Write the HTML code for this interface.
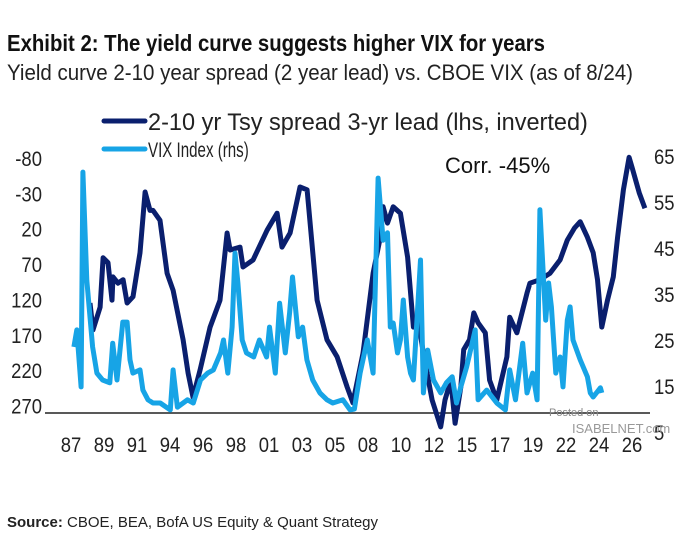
<!DOCTYPE html>
<html><head><meta charset="utf-8"><style>
body{margin:0;background:#fff;}
svg{display:block;font-family:"Liberation Sans",sans-serif;}
</style></head><body>
<svg id="chart" width="700" height="560">
<text x="7" y="51" font-size="23" font-weight="bold" fill="#111" textLength="538" lengthAdjust="spacingAndGlyphs">Exhibit 2: The yield curve suggests higher VIX for years</text>
<text x="7" y="80" font-size="22" fill="#222" textLength="626" lengthAdjust="spacingAndGlyphs">Yield curve 2-10 year spread (2 year lead) vs. CBOE VIX (as of 8/24)</text>
<line x1="104" y1="121" x2="145" y2="121" stroke="#0a1f6e" stroke-width="5" stroke-linecap="round"/>
<text x="148" y="130" font-size="24" fill="#222" transform="translate(148,0) scale(0.98,1) translate(-148,0)">2-10 yr Tsy spread 3-yr lead (lhs, inverted)</text>
<line x1="104" y1="149" x2="145" y2="149" stroke="#17a4e6" stroke-width="5" stroke-linecap="round"/>
<text x="148" y="157" font-size="21" fill="#222" transform="translate(148,0) scale(0.72,1) translate(-148,0)">VIX Index (rhs)</text>
<text x="445" y="173" font-size="22" fill="#111">Corr. -45%</text>
<line x1="45" y1="413" x2="650" y2="413" stroke="#222" stroke-width="1.5"/>
<g id="ticks"></g>
<g id="series"></g>
<text x="549" y="416" font-size="11" fill="#888">Posted on</text>
<text x="572" y="433" font-size="13" fill="#999">ISABELNET.com</text>
<text x="7" y="527" font-size="15" fill="#222"><tspan font-weight="bold">Source:</tspan> CBOE, BEA, BofA US Equity &amp; Quant Strategy</text>
</svg>
<script>
const xTickLabels=["87","89","91","94","96","98","01","03","05","08","10","12","15","17","19","22","24","26"];
const leftTicks=[-80,-30,20,70,120,170,220,270];
const rightTicks=[65,55,45,35,25,15,5];
const spreadYears=[1988.32,1988.53,1989.02,1989.23,1989.57,1989.85,1989.92,1990.27,1990.62,1990.9,1991.31,1991.8,1992.15,1992.49,1992.7,1993.19,1993.68,1994.1,1994.79,1995.14,1995.48,1995.97,1996.67,1997.36,1997.85,1998.06,1998.75,1998.96,1999.66,2000.63,2001.33,2001.67,2002.23,2002.92,2003.41,2004.11,2004.8,2005.5,2006.2,2006.6,2007.3,2008.0,2008.5,2008.7,2009.0,2009.4,2009.9,2010.4,2010.8,2011.1,2011.5,2012.1,2012.7,2013.0,2013.4,2013.7,2014.1,2014.3,2014.7,2015.0,2015.3,2015.8,2016.1,2016.6,2017.3,2017.5,2018.0,2018.7,2018.9,2019.6,2020.3,2021.0,2021.5,2022.0,2022.4,2022.9,2023.3,2023.6,2023.9,2024.3,2024.7,2025.0,2025.4,2025.8,2026.0,2026.5,2026.9];
const spreadValues=[125,163,131,61,68,121,88,97,92,125,116,54,-32,-6,-6,8,83,107,177,224,258,220,159,121,26,50,46,74,64,22,-2,46,26,-39,-35,121,177,201,244,266,196,83,32,-11,12,-11,-2,60,159,145,196,262,300,262,234,295,244,191,177,139,153,167,234,262,201,145,167,111,97,92,83,64,36,19,10,32,54,92,159,121,88,32,-35,-81,-67,-31,-9];
const vixYears=[1987.2,1987.4,1987.7,1987.83,1988.1,1988.5,1988.8,1989.2,1989.7,1989.9,1990.2,1990.6,1990.9,1991.1,1991.3,1991.8,1992.0,1992.35,1992.7,1993.2,1993.9,1994.1,1994.4,1995.1,1995.5,1996.0,1996.5,1996.9,1997.4,1997.6,1997.9,1998.2,1998.4,1998.6,1998.9,1999.2,1999.7,2000.1,2000.6,2000.8,2001.2,2001.5,2001.9,2002.2,2002.4,2002.8,2003.1,2003.4,2003.8,2004.3,2004.8,2005.2,2005.9,2006.4,2006.7,2007.1,2007.6,2008.0,2008.35,2008.7,2009.0,2009.2,2009.4,2009.7,2009.9,2010.1,2010.4,2010.6,2010.8,2011.3,2011.5,2011.8,2012.2,2012.7,2013.1,2013.5,2013.8,2014.1,2014.5,2015.1,2015.3,2015.9,2016.6,2017.2,2017.5,2017.9,2018.4,2018.7,2019.1,2019.4,2019.6,2020.0,2020.2,2020.4,2020.7,2021.0,2021.2,2021.5,2021.7,2021.9,2022.4,2022.9,2023.1,2023.3,2023.8,2023.9];
const vixValues=[23.5,27.2,14.8,61.5,38,23.5,17.8,16.3,15.7,24.3,16.3,28.9,28.9,20.7,17.8,18.5,14.1,12,11.3,11.3,9.8,18.5,10.4,12,11.3,16.3,17.8,18.5,22.2,25,17.8,27.8,43.9,37.4,25,22.2,21.3,25,21.3,27.8,17.8,33,22.2,30.9,38.7,25.7,27.8,20.7,16.3,13.5,12,11.3,12,9.8,10,17.8,25,17.8,60.2,46.7,48.3,27.8,28.7,22.2,25,33.7,21.3,17.8,16.3,42.4,13.5,22.8,16.3,13.5,15.7,17,11.3,14.8,19.1,27.2,12,14.1,11.3,9.8,18.5,12,24.3,13.5,17.8,12,53.3,29.3,37.4,32.2,17.8,21.3,14.8,29.3,32.2,25,20.7,17,13.5,12.6,14.6,13.5];

const NS="http://www.w3.org/2000/svg";
const xS=y=>71+(y-1987)*(561/39);
const yL=v=>158+(v+80)*0.7075;
const yR=v=>156+(65-v)*4.6;
const tg=document.getElementById('ticks');
function txt(x,y,s,anchor){const t=document.createElementNS(NS,'text');t.setAttribute('x',x);t.setAttribute('y',y);t.setAttribute('font-size','21');t.setAttribute('fill','#222');t.setAttribute('text-anchor',anchor);t.setAttribute('transform','translate('+x+',0) scale(0.88,1) translate('+(-x)+',0)');t.textContent=s;tg.appendChild(t);return t;}
xTickLabels.forEach((l,i)=>{const t=txt(71+i*33,452,l,'middle');

});
leftTicks.forEach(v=>{const t=txt(42,yL(v)+8,String(v),'end');

});
rightTicks.forEach(v=>{const t=txt(654,yR(v)+8,String(v),'start');

});
const sg=document.getElementById('series');
function line(xs,vs,fy,col,name){const p=document.createElementNS(NS,'path');
p.setAttribute('d',xs.map((x,i)=>(i?'L':'M')+xS(x).toFixed(1)+','+fy(vs[i]).toFixed(1)).join(''));
p.setAttribute('fill','none');p.setAttribute('stroke',col);p.setAttribute('stroke-width','5');p.setAttribute('stroke-linejoin','round');


sg.appendChild(p);}
line(spreadYears,spreadValues,yL,'#0a1f6e','spread-line');
line(vixYears,vixValues,yR,'#17a4e6','vix-line');
</script>
</body></html>
